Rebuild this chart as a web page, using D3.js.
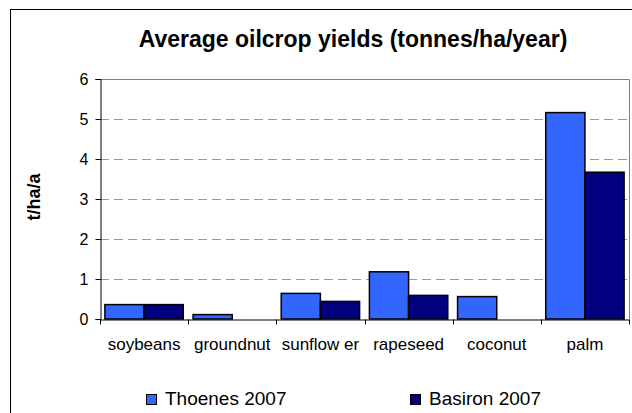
<!DOCTYPE html>
<html lang="en">
<head>
  <meta charset="UTF-8">
  <title>Average oilcrop yields</title>
  <style>
    body { margin: 0; background: #fff; }
    svg { display: block; font-family: "Liberation Sans", Arial, sans-serif; }
  </style>
</head>
<body>
  <svg id="chart" width="632" height="413"></svg>

  <script src="https://d3js.org/d3.v7.min.js"></script>
  <script>
    // Data
    const crops = ['soybeans', 'groundnut', 'sunflow er', 'rapeseed', 'coconut', 'palm']
    const seriesNames = ['Thoenes 2007', 'Basiron 2007']
    const thoenes = [0.36, 0.11, 0.64, 1.18, 0.56, 5.16]
    const basiron = [0.36, 0, 0.44, 0.59, 0, 3.67]
    const yTicks = [0, 1, 2, 3, 4, 5, 6]
    const colors = ['#3366ff', '#000080']

    const svg = d3.select('#chart')

    // plot area
    const plotLeft = 100, plotRight = 629, plotTop = 79, plotBottom = 319

    // outer chart border (runs past the picture on right and bottom)
    svg.append('rect')
      .attr('x', 10.5).attr('y', 9.5)
      .attr('width', 700).attr('height', 500)
      .attr('fill', '#fff').attr('stroke', '#000')

    // title
    svg.append('text')
      .attr('x', 353).attr('y', 47)
      .attr('text-anchor', 'middle')
      .attr('font-size', 23).attr('font-weight', 'bold')
      .text('Average oilcrop yields (tonnes/ha/year)')

    const x = d3.scaleBand()
      .domain(crops)
      .range([plotLeft, plotRight])

    const xInner = d3.scaleBand()
      .domain(seriesNames)
      .range([0, x.bandwidth()])
      .paddingOuter(0.125)

    const y = d3.scaleLinear()
      .domain([0, 6])
      .range([plotBottom, plotTop])

    // plot frame, grey top + right
    svg.append('path')
      .attr('d', `M${plotLeft},${plotTop + 0.5}H${plotRight + 0.5}V${plotBottom}`)
      .attr('fill', 'none')
      .attr('stroke', '#808080')

    // dashed gridlines
    svg.append('g')
      .selectAll('line')
      .data(yTicks.filter(d => d > 0 && d < 6))
      .join('line')
      .attr('x1', plotLeft).attr('x2', plotRight)
      .attr('y1', d => Math.round(y(d)) + 0.5)
      .attr('y2', d => Math.round(y(d)) + 0.5)
      .attr('stroke', '#999')
      .attr('stroke-dasharray', '9,5')

    // bars
    const rows = crops.map((c, i) => ({ crop: c, values: [thoenes[i], basiron[i]] }))

    svg.append('g')
      .selectAll('g')
      .data(rows)
      .join('g')
      .attr('transform', d => `translate(${x(d.crop)},0)`)
      .selectAll('rect')
      .data(d => d.values.map((v, j) => ({ name: seriesNames[j], value: v, color: colors[j] })))
      .join('rect')
      .filter(d => d.value > 0)
      .attr('x', d => xInner(d.name))
      .attr('y', d => y(d.value))
      .attr('width', xInner.bandwidth())
      .attr('height', d => y(0) - y(d.value))
      .attr('fill', d => d.color)
      .attr('stroke', '#000')
      .attr('stroke-width', 1.5)

    // y axis
    const yAxis = svg.append('g')
      .attr('transform', `translate(${plotLeft + 0.5},0)`)
      .call(d3.axisLeft(y).tickValues(yTicks).tickFormat(d3.format('d')).tickSize(5).tickPadding(7))
    yAxis.selectAll('text')
      .attr('font-size', 16)
      .attr('font-family', '"Liberation Sans", Arial, sans-serif')
      .attr('fill', '#000')

    // x axis
    const xAxis = svg.append('g')
      .attr('transform', `translate(0,${plotBottom + 0.5})`)
      .call(d3.axisBottom(x).tickSize(0).tickPadding(18))
    xAxis.selectAll('text')
      .attr('font-size', 17)
      .attr('font-family', '"Liberation Sans", Arial, sans-serif')
      .attr('fill', '#000')
    // tick marks at category boundaries
    xAxis.selectAll('.boundary')
      .data(crops.concat(['end']))
      .join('line')
      .attr('class', 'boundary')
      .attr('x1', (d, i) => Math.round(i < crops.length ? x(d) : plotRight) + 0.5)
      .attr('x2', (d, i) => Math.round(i < crops.length ? x(d) : plotRight) + 0.5)
      .attr('y1', 0).attr('y2', 5)
      .attr('stroke', '#000')

    // y axis title
    svg.append('text')
      .attr('transform', 'translate(40,197) rotate(-90)')
      .attr('text-anchor', 'middle')
      .attr('font-size', 18).attr('font-weight', 'bold')
      .text('t/ha/a')

    // legend
    const legendX = [146, 410]
    const legend = svg.append('g')
      .selectAll('g')
      .data(seriesNames)
      .join('g')
      .attr('transform', (d, i) => `translate(${legendX[i]},394)`)
    legend.append('rect')
      .attr('x', 0.5).attr('y', 0.5)
      .attr('width', 10).attr('height', 10)
      .attr('fill', (d, i) => colors[i])
      .attr('stroke', '#000')
    legend.append('text')
      .attr('x', 19).attr('y', 11)
      .attr('font-size', 19)
      .text(d => d)
  </script>
</body>
</html>
